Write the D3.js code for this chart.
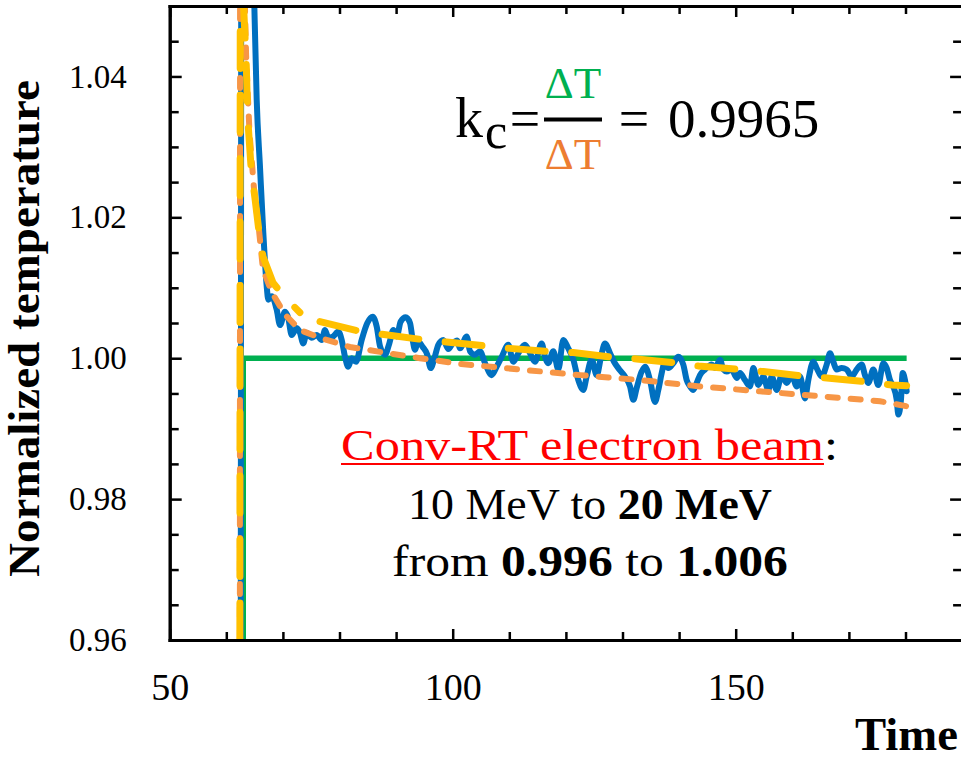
<!DOCTYPE html>
<html><head><meta charset="utf-8">
<script src="https://cdn.jsdelivr.net/npm/d3@7"></script>
<style>body{margin:0;background:#fff}</style>
</head><body>
<svg id="chart" width="961" height="762"></svg>
<script>
// ---------------- data ----------------
const xTicksMajor = [50, 100, 150];
const xTicksMinor = [60, 70, 80, 90, 110, 120, 130, 140, 160, 170, 180];
const yTicksMajor = [0.96, 0.98, 1.00, 1.02, 1.04];
const yTicksMinor = [0.965, 0.97, 0.975, 0.985, 0.99, 0.995, 1.005, 1.01, 1.015, 1.025, 1.03, 1.035, 1.045];
const yTickLabels = ["0.96", "0.98", "1.00", "1.02", "1.04"];

// measured normalized temperature (blue)
const measuredTime = [62.55, 62.75, 64.3, 64.95, 65.37, 65.95, 66.54, 67.14, 67.42, 68.02, 68.9, 69.49, 70.37, 70.95, 71.55, 72.44, 73.02, 73.6, 74.2, 75.09, 75.97, 76.86, 77.44, 78.02, 78.9, 79.79, 80.39, 80.97, 81.55, 82.16, 82.92, 83.92, 84.91, 85.87, 86.57, 87.16, 88.04, 88.8, 89.51, 90.11, 90.81, 91.7, 92.46, 92.93, 93.34, 93.82, 94.7, 95.51, 96.11, 96.7, 97.46, 98.34, 99.22, 100.0, 100.81, 101.29, 102.47, 103.06, 103.94, 104.82, 105.71, 106.89, 107.77, 108.66, 109.82, 110.71, 111.59, 112.77, 113.66, 114.54, 115.72, 116.31, 116.89, 117.77, 118.66, 119.54, 120.42, 121.31, 122.19, 123.07, 123.67, 124.56, 125.44, 126.33, 126.91, 127.8, 128.5, 129.43, 130.44, 131.33, 131.91, 132.51, 133.39, 133.98, 134.86, 135.74, 136.33, 136.93, 137.51, 138.09, 138.98, 139.86, 140.74, 141.34, 141.93, 142.51, 143.11, 143.69, 144.58, 145.76, 146.34, 147.23, 147.81, 148.41, 149.29, 150.18, 150.76, 151.64, 152.53, 153.11, 154.0, 154.88, 155.76, 156.36, 157.24, 158.13, 159.01, 159.89, 160.78, 161.36, 162.24, 162.83, 163.71, 164.31, 165.19, 166.08, 166.66, 167.24, 167.84, 168.73, 169.61, 170.49, 171.38, 172.26, 172.84, 173.43, 174.31, 175.19, 176.08, 176.68, 177.26, 177.84, 178.45, 178.73, 179.2, 179.5, 179.91, 180.21];
const measuredTemp = [0.95, 1.12, 1.075, 1.0502, 1.0367, 1.0272, 1.0178, 1.0102, 1.0083, 1.0088, 1.0069, 1.0047, 1.0066, 1.0057, 1.0033, 1.0043, 1.0036, 1.0021, 1.0036, 1.0029, 1.0033, 1.0026, 1.0040, 1.0029, 1.0031, 1.0038, 1.0026, 1.0002, 0.9988, 1.0000, 0.9995, 1.0026, 1.0050, 1.0059, 1.0045, 1.0017, 1.0005, 1.0021, 1.0040, 1.0031, 1.0052, 1.0058, 1.0050, 1.0026, 1.0012, 1.0024, 1.0016, 1.0005, 0.9986, 0.9998, 1.0019, 1.0026, 1.0013, 1.0021, 1.0025, 1.0014, 1.0031, 1.0010, 1.0005, 1.0010, 0.9993, 0.9976, 0.9988, 1.0002, 1.0019, 0.9995, 1.0007, 1.0019, 1.0007, 0.9995, 1.0021, 1.0002, 0.9993, 1.0010, 0.9984, 1.0026, 1.0014, 0.9998, 0.9969, 0.9955, 0.9974, 0.9998, 0.9976, 1.0007, 1.0021, 1.0007, 0.9995, 0.9984, 0.9974, 0.9960, 0.9941, 0.9958, 0.9981, 0.9988, 0.9969, 0.9938, 0.9955, 0.9979, 0.9995, 0.9986, 0.9993, 1.0002, 0.9991, 0.9969, 0.9960, 0.9955, 0.9965, 0.9976, 0.9984, 0.9991, 0.9986, 0.9998, 0.9984, 0.9981, 0.9984, 0.9972, 0.9979, 0.9969, 0.9960, 0.9986, 0.9962, 0.9974, 0.9955, 0.9974, 0.9955, 0.9976, 0.9965, 0.9976, 0.9960, 0.9974, 0.9943, 0.9969, 0.9995, 0.9986, 0.9974, 0.9991, 1.0007, 0.9995, 0.9984, 0.9986, 0.9984, 0.9974, 0.9984, 0.9991, 0.9976, 0.9965, 0.9984, 0.9962, 0.9993, 0.9986, 0.9969, 0.9960, 0.9941, 0.9920, 0.9941, 0.9979, 0.9969, 0.9953];

// reference level (green)
const refTime = [63.0, 63.0, 180.2];
const refTemp = [0.95, 1.0, 1.0];

// fit A (orange, short dashes)
const fitATime = [62.4, 62.45, 63.0, 63.5, 64.1, 64.9, 65.8, 66.48, 68.07, 70.37, 73.02, 76.55, 81.84, 87.15, 94.22, 101.29, 111.89, 122.49, 133.09, 143.69, 154.29, 164.89, 175.5, 180.1];
const fitATemp = [0.96, 1.10, 1.06, 1.043, 1.032, 1.024, 1.018, 1.0126, 1.0093, 1.0062, 1.0040, 1.0029, 1.0016, 1.0009, 1.0000, 0.9992, 0.9984, 0.9976, 0.9969, 0.9960, 0.9953, 0.9946, 0.9939, 0.9932];

// fit B (yellow, long dashes): spike part and tail part
const fitBTime = [62.4, 62.5, 63.04, 63.5, 63.8, 64.4, 65.1, 65.95, 66.5, 68.25, 70.4, 73.0];
const fitBTemp = [0.96, 1.10, 1.0502, 1.0424, 1.0339, 1.0268, 1.0225, 1.0168, 1.0144, 1.0107, 1.0086, 1.0065];
const fitBTailTime = [76.55, 83.6, 87.45, 95.1, 98.9, 106.3, 110.1, 117.8, 121.3, 128.7, 132.5, 139.9, 143.4, 151.1, 154.9, 162.5, 166.1, 173.7, 177.6, 180.2];
const fitBTailTemp = [1.0052, 1.0038, 1.0034, 1.0026, 1.0023, 1.0017, 1.0014, 1.0009, 1.0008, 1.0001, 0.9999, 0.9993, 0.9989, 0.9984, 0.9981, 0.9974, 0.9972, 0.9966, 0.9962, 0.9961];

// ---------------- chart ----------------
const FONT = "'Liberation Serif','Times New Roman',serif";
const svg = d3.select("#chart").style("font-family", FONT);
const pLeft = 169.7, pRight = 962.1, pTop = 6, pBottom = 640;
const x = d3.scaleLinear().domain([50, 190]).range([pLeft, pRight]);
const y = d3.scaleLinear().domain([0.96, 1.05]).range([pBottom, pTop]);

svg.append("defs").append("clipPath").attr("id", "plotClip")
  .append("rect").attr("x", pLeft).attr("y", pTop).attr("width", pRight - pLeft).attr("height", pBottom - pTop);

const plot = svg.append("g").attr("clip-path", "url(#plotClip)");
const zip = (a, b) => a.map((d, i) => [d, b[i]]);
const line = d3.line().x(d => x(d[0])).y(d => y(d[1]));
const smooth = d3.line().x(d => x(d[0])).y(d => y(d[1])).curve(d3.curveMonotoneX);

plot.append("path").datum(zip(refTime, refTemp)).attr("d", line)
  .attr("fill", "none").attr("stroke", "#00B050").attr("stroke-width", 5.5);

plot.append("path").datum(zip(measuredTime, measuredTemp)).attr("d", smooth)
  .attr("fill", "none").attr("stroke", "#0070C0").attr("stroke-width", 6)
  .attr("stroke-linejoin", "round").attr("stroke-linecap", "round");

plot.append("path").datum(zip(fitATime, fitATemp)).attr("d", line)
  .attr("fill", "none").attr("stroke", "#F79646").attr("stroke-width", 6)
  .attr("stroke-linecap", "round").attr("stroke-dasharray", "10,13");

[[fitBTime, fitBTemp], [fitBTailTime, fitBTailTemp]].forEach(([t, v]) => {
  plot.append("path").datum(zip(t, v)).attr("d", line)
    .attr("fill", "none").attr("stroke", "#FFC000").attr("stroke-width", 7)
    .attr("stroke-linecap", "round").attr("stroke-dasharray", "37,26.5");
});

// ---------------- axes ----------------
function axisPart(gen, transform, values, size, fmt) {
  const g = svg.append("g").attr("transform", transform)
    .call(gen.tickValues(values).tickSizeInner(-size).tickSizeOuter(0).tickFormat(fmt || (() => "")));
  g.select(".domain").attr("stroke-width", 3).attr("stroke-linecap", "square");
  g.selectAll(".tick line").attr("stroke-width", 2.5);
  return g;
}
// bottom
axisPart(d3.axisBottom(x), `translate(0,${pBottom})`, xTicksMinor, 8);
const gxb = axisPart(d3.axisBottom(x), `translate(0,${pBottom})`, xTicksMajor, 11, d3.format("d"));
gxb.selectAll(".tick text").attr("y", 60).attr("dy", 0).attr("font-size", 38)
  .attr("font-family", FONT).attr("fill", "#000");
// top
axisPart(d3.axisTop(x), `translate(0,${pTop})`, xTicksMinor, 8);
axisPart(d3.axisTop(x), `translate(0,${pTop})`, xTicksMajor, 11);
// left
axisPart(d3.axisLeft(y), `translate(${pLeft},0)`, yTicksMinor, 9);
const gyl = axisPart(d3.axisLeft(y), `translate(${pLeft},0)`, yTicksMajor, 12, (d, i) => yTickLabels[i]);
gyl.selectAll(".tick text").attr("x", -43).attr("font-size", 33)
  .attr("font-family", FONT).attr("fill", "#000");
// right
axisPart(d3.axisRight(y), `translate(${pRight},0)`, yTicksMinor, 9);
axisPart(d3.axisRight(y), `translate(${pRight},0)`, yTicksMajor, 12);

// ---------------- texts ----------------
function fitted(cx, cy, targetW, build, extra) {
  const g = svg.append("g");
  const t = g.append("text").attr("text-anchor", "middle");
  build(t);
  const w = t.node().getComputedTextLength();
  if (extra) extra(g, t, w);
  g.attr("transform", `translate(${cx},${cy}) scale(${targetW / w},1)`);
  return g;
}

// y axis title
(function () {
  const g = svg.append("g");
  const t = g.append("text").attr("text-anchor", "middle").attr("font-size", 45)
    .attr("font-weight", "bold").text("Normalized temperature");
  const w = t.node().getComputedTextLength();
  g.attr("transform", `translate(39,328.5) rotate(-90) scale(${497 / w},1)`);
})();

// x axis title
fitted(906.5, 750, 103, t => t.attr("font-size", 47).attr("font-weight", "bold").text("Time"));

// annotation lines
fitted(589.5, 460, 497, t => {
  t.attr("font-size", 45);
  t.append("tspan").attr("fill", "#FF0000").text("Conv-RT electron beam");
  t.append("tspan").attr("fill", "#000").text(":");
}, (g, t, w) => {
  const redW = t.select("tspan").node().getComputedTextLength();
  g.append("line").attr("x1", -w / 2).attr("x2", -w / 2 + redW)
    .attr("y1", 4).attr("y2", 4).attr("stroke", "#FF0000").attr("stroke-width", 2);
});
fitted(590, 519, 364, t => {
  t.attr("font-size", 45);
  t.append("tspan").text("10 MeV to ");
  t.append("tspan").attr("font-weight", "bold").text("20 MeV");
});
fitted(590, 576, 396, t => {
  t.attr("font-size", 45);
  t.append("tspan").text("from ");
  t.append("tspan").attr("font-weight", "bold").text("0.996");
  t.append("tspan").text(" to ");
  t.append("tspan").attr("font-weight", "bold").text("1.006");
});

// formula k_c = ΔT/ΔT = 0.9965
const f = svg.append("g").attr("fill", "#000");
f.append("text").attr("x", 455).attr("y", 137).attr("font-size", 56).text("k");
f.append("text").attr("x", 485).attr("y", 148).attr("font-size", 50).text("c");
f.append("text").attr("x", 525).attr("y", 137).attr("font-size", 54).attr("text-anchor", "middle").text("=");
f.append("line").attr("x1", 544).attr("x2", 602).attr("y1", 119.5).attr("y2", 119.5)
  .attr("stroke", "#000").attr("stroke-width", 4);
f.append("text").attr("x", 573).attr("y", 98).attr("font-size", 45).attr("text-anchor", "middle")
  .attr("fill", "#00B050").text("ΔT");
f.append("text").attr("x", 573).attr("y", 169).attr("font-size", 45).attr("text-anchor", "middle")
  .attr("fill", "#ED7D31").text("ΔT");
f.append("text").attr("x", 634).attr("y", 137).attr("font-size", 54).attr("text-anchor", "middle").text("=");
f.append("text").attr("x", 668).attr("y", 137).attr("font-size", 55).text("0.9965");
</script>
</body></html>
